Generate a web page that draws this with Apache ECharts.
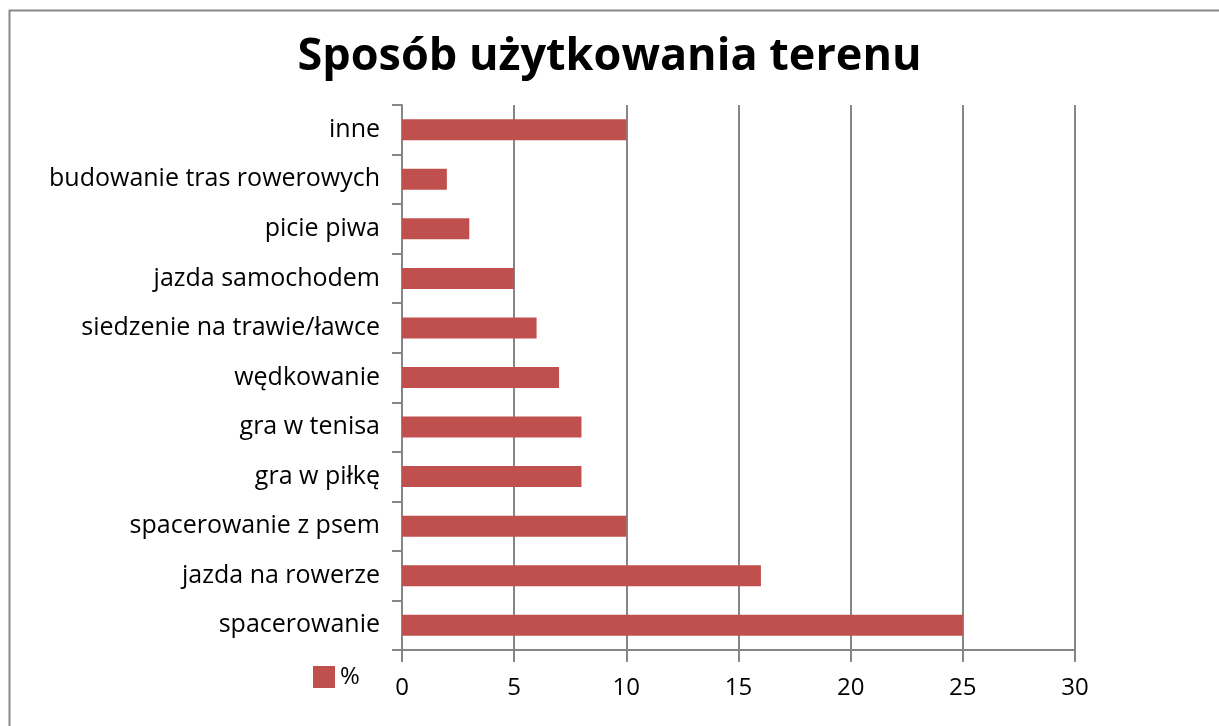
<!DOCTYPE html>
<html>
<head>
<meta charset="utf-8">
<script src="https://cdn.jsdelivr.net/npm/echarts@6/dist/echarts.min.js"></script>
<style>
    html, body { margin: 0; padding: 0; background: #fff; }
    #chart { width: 1219px; height: 726px; }
</style>
</head>
<body>
<div id="chart"></div>
<script>
// Data
var categories = [
    'spacerowanie', 'jazda na rowerze', 'spacerowanie z psem', 'gra w piłkę',
    'gra w tenisa', 'wędkowanie', 'siedzenie na trawie/ławce', 'jazda samochodem',
    'picie piwa', 'budowanie tras rowerowych', 'inne'
];
var percentValues = [25, 16, 10, 8, 8, 7, 6, 5, 3, 2, 10];
var seriesName = '%';
var chartTitle = 'Sposób użytkowania terenu';

var chart_element = document.getElementById('chart');
var chart = echarts.init(chart_element);

var axisGray = '#868686';
var fontFamily = '"Open Sans", "Noto Sans", sans-serif';

var options = {
    animation: false,
    textStyle: {
        fontFamily: fontFamily
    },

    // Outer frame (right and bottom edges fall outside the picture)
    graphic: [{
        type: 'rect',
        left: 7,
        top: 8,
        shape: { width: 1230, height: 740 },
        style: { fill: 'none', stroke: '#888', lineWidth: 2 }
    }],

    title: {
        text: chartTitle,
        left: 'center',
        top: 30,
        textStyle: {
            fontSize: 45,
            fontWeight: 'bold',
            color: '#000',
            fontFamily: fontFamily
        }
    },

    legend: {
        data: [seriesName],
        left: 308,
        top: 660,
        icon: 'rect',
        itemWidth: 22,
        itemHeight: 22,
        itemGap: 10,
        textStyle: {
            fontSize: 24,
            color: '#000'
        }
    },

    grid: {
        left: 402,
        right: 144,
        top: 105,
        bottom: 76,
        containLabel: false
    },

    xAxis: {
        type: 'value',
        min: 0,
        max: 30,
        interval: 5,
        axisLine: { show: true, lineStyle: { color: axisGray, width: 2 } },
        axisTick: { show: true, length: 12, lineStyle: { color: axisGray, width: 2 } },
        axisLabel: { fontSize: 24, color: '#000', margin: 26 },
        splitLine: { show: true, lineStyle: { color: axisGray, width: 2 } }
    },

    yAxis: {
        type: 'category',
        data: categories,
        axisLine: { show: true, lineStyle: { color: axisGray, width: 2 } },
        axisTick: { show: true, length: 10, lineStyle: { color: axisGray, width: 2 } },
        axisLabel: { fontSize: 25, color: '#000', margin: 22 }
    },

    series: [{
        name: seriesName,
        type: 'bar',
        data: percentValues,
        barWidth: 21,
        itemStyle: { color: '#C0504D' }
    }]
};

chart.setOption(options);
</script>
</body>
</html>
